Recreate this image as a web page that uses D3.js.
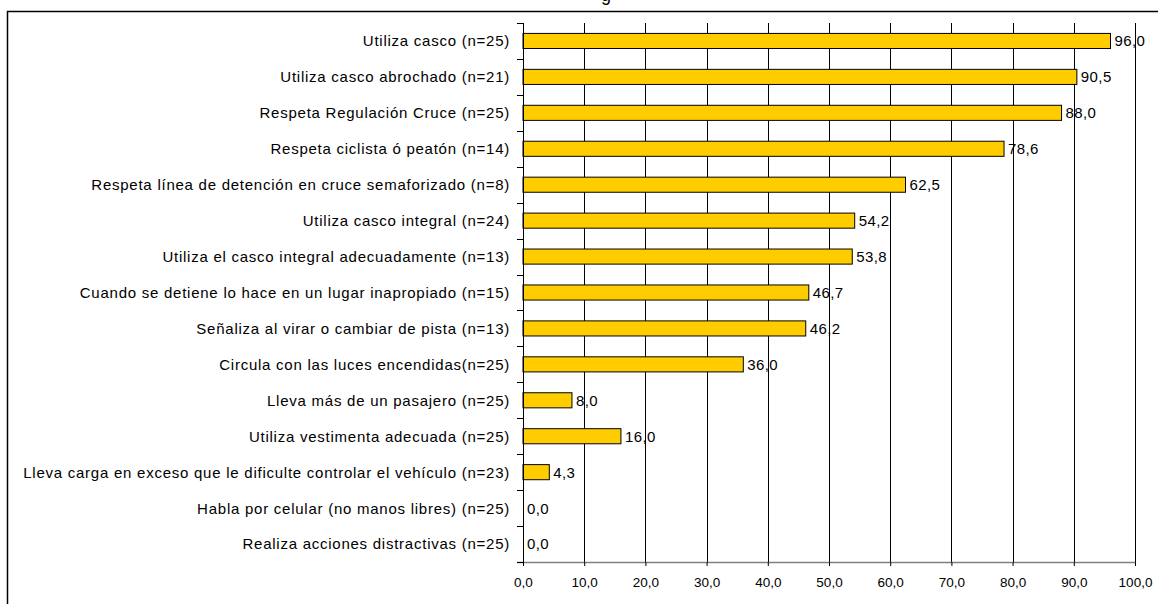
<!DOCTYPE html>
<html><head><meta charset="utf-8">
<script src="https://cdn.jsdelivr.net/npm/d3@7"></script>
<style>body{margin:0;background:#fff;} svg{display:block;}</style>
</head><body>
<svg id="c" width="1158" height="604"></svg>
<script>
const categories = [
  "Utiliza casco (n=25)",
  "Utiliza casco abrochado (n=21)",
  "Respeta Regulación Cruce (n=25)",
  "Respeta ciclista ó peatón (n=14)",
  "Respeta línea de detención en cruce semaforizado (n=8)",
  "Utiliza casco integral (n=24)",
  "Utiliza el casco integral adecuadamente (n=13)",
  "Cuando se detiene lo hace en un lugar inapropiado (n=15)",
  "Señaliza al virar o cambiar de pista (n=13)",
  "Circula con las luces encendidas(n=25)",
  "Lleva más de un pasajero (n=25)",
  "Utiliza vestimenta adecuada (n=25)",
  "Lleva carga en exceso que le dificulte controlar el vehículo (n=23)",
  "Habla por celular (no manos libres) (n=25)",
  "Realiza acciones distractivas (n=25)"
];
const values = [96.0, 90.5, 88.0, 78.6, 62.5, 54.2, 53.8, 46.7, 46.2, 36.0, 8.0, 16.0, 4.3, 0.0, 0.0];
const xTicks = [0,10,20,30,40,50,60,70,80,90,100];
const titleFragment = "g";

const svg = d3.select("#c");
const fmt = v => v.toFixed(1).replace(".", ",");
const font = "'Liberation Sans', Arial, sans-serif";

// frame
svg.append("path").attr("d","M7.5,640 V11.5 H1170").attr("fill","none").attr("stroke","#000").attr("stroke-width",1.5);
svg.append("text").attr("x",606).attr("y",1).attr("text-anchor","middle")
  .attr("font-family",font).attr("font-size",18).text(titleFragment);

const x = d3.scaleLinear().domain([0,100]).range([523,1135]);
const y = d3.scaleBand().domain(categories).range([23,562]).paddingInner(0.58).paddingOuter(0.29);
const step = y.step();

// gridlines
svg.append("g").selectAll("line").data(xTicks.slice(1)).join("line")
  .attr("x1",d=>Math.round(x(d))+0.5).attr("x2",d=>Math.round(x(d))+0.5)
  .attr("y1",23).attr("y2",562).attr("stroke","#000").attr("stroke-width",1);

// bars
svg.append("g").selectAll("rect").data(values).join("rect")
  .attr("x",x(0)).attr("y",(d,i)=>y(categories[i]))
  .attr("width",d=>x(d)-x(0)).attr("height",y.bandwidth())
  .attr("fill","#FFCC00").attr("stroke","#000").attr("stroke-width",1);

// value labels
svg.append("g").selectAll("text").data(values).join("text")
  .attr("x",d=>x(d)+4).attr("y",(d,i)=>y(categories[i])+y.bandwidth()/2)
  .attr("dy","0.36em").attr("font-family",font).attr("font-size",15).attr("letter-spacing",0.4)
  .text(d=>fmt(d));

// x axis
const xa = svg.append("g").attr("transform","translate(0,562)")
  .call(d3.axisBottom(x).tickValues(xTicks).tickFormat(fmt).tickSize(4).tickPadding(11));
xa.select(".domain").attr("stroke","#808080").attr("stroke-width",1.5).attr("d","M517,0.5H"+x(100));
xa.selectAll(".tick line").attr("stroke","#000");
xa.selectAll("text").attr("font-family",font).attr("font-size",13.5).attr("fill","#000");

// y axis
svg.append("line").attr("x1",523.5).attr("x2",523.5).attr("y1",23).attr("y2",562).attr("stroke","#000").attr("stroke-width",1);
const bounds = d3.range(categories.length+1).map(i=>23 + i*step);
svg.append("g").selectAll("line").data(bounds).join("line")
  .attr("x1",517).attr("x2",523).attr("y1",d=>Math.round(d)+0.5).attr("y2",d=>Math.round(d)+0.5)
  .attr("stroke","#000");
svg.append("g").selectAll("text").data(categories).join("text")
  .attr("x",510).attr("y",d=>y(d)+y.bandwidth()/2).attr("dy","0.36em")
  .attr("text-anchor","end").attr("font-family",font).attr("font-size",15).attr("letter-spacing",0.75)
  .text(d=>d);
</script>
</body></html>
